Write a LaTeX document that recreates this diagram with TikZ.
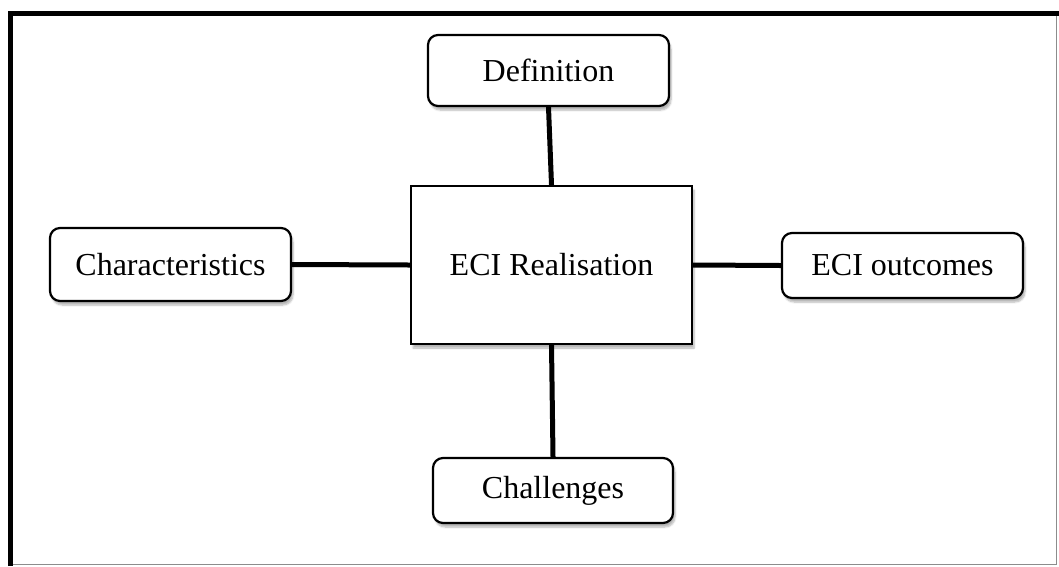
\documentclass[tikz,border=0pt]{standalone}
\usepackage{fontspec}
\setmainfont{Liberation Serif}
\usetikzlibrary{shadows.blur}

\tikzset{
  topic/.style={draw=black, line width=2.2pt, rounded corners=10pt, fill=white,
    inner sep=0pt, font=\fontsize{32}{38}\selectfont,
    blur shadow={shadow xshift=2pt, shadow yshift=-4pt, shadow blur steps=6, shadow opacity=30}},
  core/.style={draw=black, line width=2.2pt, fill=white,
    inner sep=0pt, font=\fontsize{32}{38}\selectfont,
    blur shadow={shadow xshift=2pt, shadow yshift=-4pt, shadow blur steps=6, shadow opacity=30}},
  link/.style={line width=5pt, black},
  framebold/.style={line width=5pt, black},
  framethin/.style={line width=1.5pt, black!45},
}

\begin{document}
\begin{tikzpicture}[x=1pt, y=-1pt]
  \useasboundingbox (0,0) rectangle (1059,566);

  % surrounding frame
  \draw[framethin] (1056.5,13.5) -- (1056.5,564.5) -- (10.5,564.5);
  \draw[framebold] (10.5,566) -- (10.5,13.5) -- (1059,13.5);

  % central concept
  \node[core, minimum width=281pt, minimum height=158pt] (ctr) at (551.5,265) {ECI Realisation};

  % surrounding topics
  \node[topic, minimum width=241pt, minimum height=71pt] (def) at (548.5,70.5) {Definition};
  \node[topic, minimum width=241pt, minimum height=73pt] (chr) at (170.5,264.5) {Characteristics};
  \node[topic, minimum width=241pt, minimum height=65pt] (out) at (902.5,265.5) {ECI outcomes};
  \node[topic, minimum width=240pt, minimum height=65pt] (chl) at (553,490.5) {Challenges};

  % connectors
  \draw[link] (def.south) -- (ctr.north);
  \draw[link] (chr.east) -- (ctr.west);
  \draw[link] (ctr.east) -- (out.west);
  \draw[link] (ctr.south) -- (chl.north);
\end{tikzpicture}
\end{document}
